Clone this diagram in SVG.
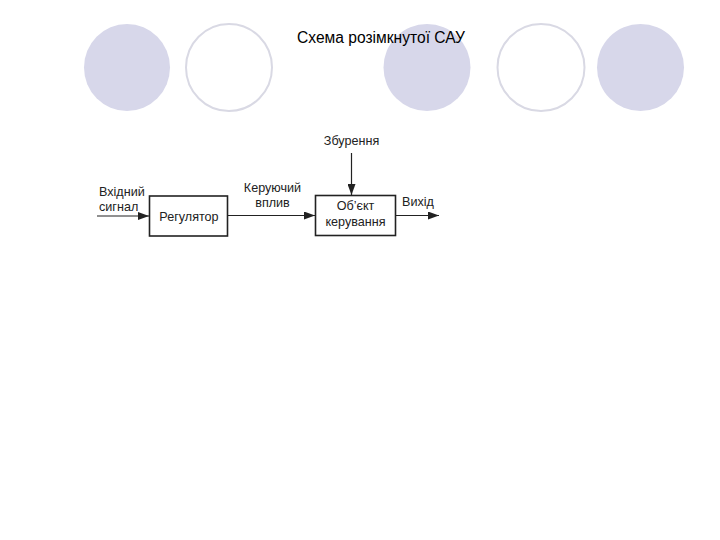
<svg xmlns="http://www.w3.org/2000/svg" width="720" height="540" viewBox="0 0 720 540">
<style>
.fill{fill:#d7d7ea;stroke:none}
.ring{fill:#fff;stroke:#d9d9e4;stroke-width:2}
.t{font-family:"Liberation Sans",Arial,sans-serif;font-size:12.6px;fill:#222}
.box{fill:#fff;stroke:#222;stroke-width:1.6}
.ln{stroke:#222;stroke-width:1.2;fill:none}
</style>
<defs>
<marker id="ah" viewBox="0 0 11 8" refX="11" refY="4" markerWidth="11" markerHeight="8" markerUnits="userSpaceOnUse" orient="auto">
<path d="M0,0 L11,4 L0,8 Z" fill="#222"/>
</marker>
</defs>
<rect width="720" height="540" fill="#fff"/>
<g id="decor">
<ellipse class="fill" cx="127" cy="67.5" rx="43" ry="43.5"/>
<ellipse class="ring" cx="229" cy="67.5" rx="43" ry="43.5"/>
<ellipse class="fill" cx="427" cy="67.5" rx="43.5" ry="43.5"/>
<ellipse class="ring" cx="541" cy="67.5" rx="43.5" ry="43.5"/>
<ellipse class="fill" cx="640.5" cy="67.5" rx="43.5" ry="43.5"/>
</g>
<text x="297" y="43" font-family="Liberation Sans,Arial,sans-serif" font-size="15.6" fill="#000">Схема розімкнутої САУ</text>
<g id="connectors">
<line class="ln" x1="97" y1="216" x2="149" y2="216" marker-end="url(#ah)"/>
<line class="ln" x1="228" y1="215.5" x2="315" y2="215.5" marker-end="url(#ah)"/>
<line class="ln" x1="351.5" y1="153" x2="351.5" y2="195" marker-end="url(#ah)"/>
<line class="ln" x1="396" y1="215.5" x2="439" y2="215.5" marker-end="url(#ah)"/>
</g>
<g id="input-label">
<text class="t" x="99" y="196">Вхідний</text>
<text class="t" x="99" y="211">сигнал</text>
</g>
<g id="regulator">
<rect class="box" x="149.5" y="196" width="78" height="40"/>
<text class="t" x="189" y="221" text-anchor="middle">Регулятор</text>
</g>
<g id="control-label">
<text class="t" x="272.5" y="192" text-anchor="middle">Керуючий</text>
<text class="t" x="272.5" y="207" text-anchor="middle">вплив</text>
</g>
<g id="disturbance">
<text class="t" x="351.5" y="145" text-anchor="middle">Збурення</text>
</g>
<g id="object">
<rect class="box" x="315.5" y="195.5" width="80" height="40"/>
<text class="t" x="355.5" y="210" text-anchor="middle">Об’єкт</text>
<text class="t" x="355.5" y="226" text-anchor="middle">керування</text>
</g>
<g id="output-label">
<text class="t" x="402" y="206">Вихід</text>
</g>
</svg>
